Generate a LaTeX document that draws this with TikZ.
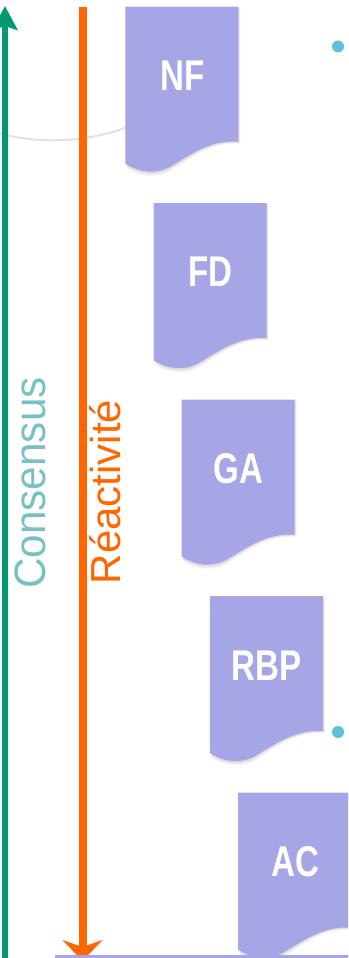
\documentclass[tikz,border=0pt]{standalone}
\usepackage{fontspec}
\setmainfont{Liberation Sans}
\newfontfamily\narrowfont[FakeStretch=0.77]{Liberation Sans}
\newfontfamily\semifont[FakeStretch=0.96]{Liberation Sans}
\usetikzlibrary{arrows.meta}
\definecolor{lav}{RGB}{166,166,230}
\definecolor{grn}{RGB}{0,153,112}
\definecolor{org}{RGB}{255,102,0}
\definecolor{tealtxt}{RGB}{120,192,196}
\definecolor{dotblue}{RGB}{94,192,220}
\definecolor{swoosh}{RGB}{222,226,232}
\newcommand\docshape[3]{%
  \begin{scope}[shift={(#1,#2)}]
    \fill[black,opacity=0.06] (2,1) -- (115,1) -- (115,137) .. controls (87,135) and (67,150) .. (47,163) .. controls (32,172) and (17,170) .. (2,162) -- cycle;
    \fill[black,opacity=0.08] (1,0.5) -- (114,0.5) -- (114,136) .. controls (86,134) and (66,149) .. (46,161.5) .. controls (31,170) and (16,168) .. (1,159.5) -- cycle;
    \fill[lav] (0,0) -- (113,0) -- (113,135) .. controls (85,133) and (65,148) .. (45,160) .. controls (30,168) and (15,166) .. (0,157) -- cycle;
    \node[doclabel] (#3) at (57,69) {#3};
  \end{scope}}
\begin{document}
\begin{tikzpicture}[x=1pt,y=-1pt,
  doclabel/.style={text=white, font=\narrowfont\bfseries\fontsize{43}{43}\selectfont, inner sep=0pt},
  axislabel/.style={rotate=90, anchor=base, inner sep=0pt}]
\useasboundingbox (0,0) rectangle (348,958);
\clip (0,0) rectangle (348,958);
% faint decorative curve
\draw[swoosh, line width=2pt] (-2,133) .. controls (40,145) and (90,142) .. (130,126);
% vertical arrows
\coordinate (gbot) at (5,965);
\coordinate (gtop) at (5,6);
\coordinate (otop) at (82.5,7);
\coordinate (obot) at (82.5,961);
\draw[grn, line width=6pt, -{Stealth[length=24pt,width=25pt,inset=4pt]}] (gbot) -- (gtop);
\draw[org, line width=8pt, -{Stealth[length=21pt,width=40pt,inset=7pt]}] (otop) -- (obot);
% labels of the arrows
\node[axislabel, text=tealtxt, font=\semifont\fontsize{44}{44}\selectfont] (cons) at (45,483) {Consensus};
\node[axislabel, text=org, font=\fontsize{42}{42}\selectfont] (reac) at (120,492) {Réactivité};
% documents
\docshape{125.3}{6.7}{NF}
\docshape{153.5}{203.2}{FD}
\docshape{181.7}{399.7}{GA}
\docshape{209.9}{596.2}{RBP}
\docshape{238.1}{792.7}{AC}
% bottom bar
\fill[lav] (55,955) rectangle (350,962);
% dots
\fill[dotblue] (338,46.5) circle (6);
\fill[dotblue] (338,732) circle (6);
\end{tikzpicture}
\end{document}
